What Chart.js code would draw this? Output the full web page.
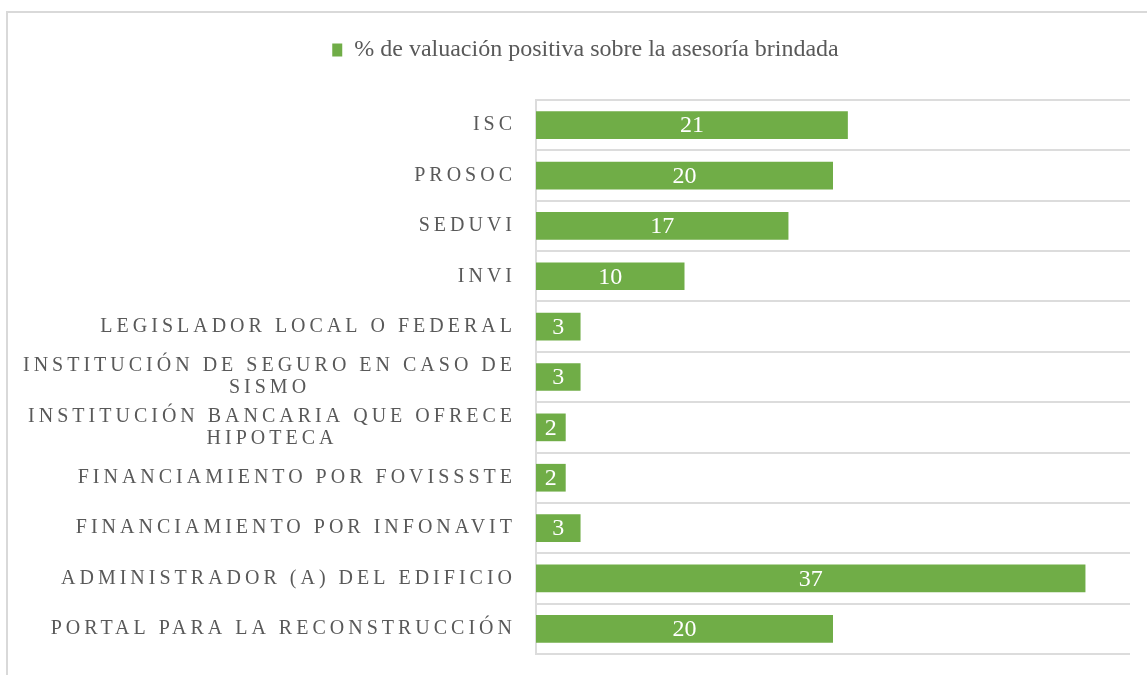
<!DOCTYPE html>
<html>
<head>
<meta charset="utf-8">
<script src="https://cdn.jsdelivr.net/npm/chart.js@4"></script>
<style>
  html, body { margin: 0; padding: 0; background: #fff; }
  #wrap { position: relative; width: 1147px; height: 675px; overflow: hidden; }
  #frame { position: absolute; left: 6px; top: 11px; width: 1200px; height: 720px; border: 2px solid #d9d9d9; box-sizing: border-box; }
  canvas { position: absolute; left: 0; top: 0; }
</style>
</head>
<body>
<div id="wrap">
  <div id="frame"></div>
  <canvas id="c" width="1147" height="675"></canvas>
</div>
<script>
const categories = [
  ['ISC'],
  ['PROSOC'],
  ['SEDUVI'],
  ['INVI'],
  ['LEGISLADOR LOCAL O FEDERAL'],
  ['INSTITUCIÓN DE SEGURO EN CASO DE', 'SISMO'],
  ['INSTITUCIÓN BANCARIA QUE OFRECE', 'HIPOTECA'],
  ['FINANCIAMIENTO POR FOVISSSTE'],
  ['FINANCIAMIENTO POR INFONAVIT'],
  ['ADMINISTRADOR (A) DEL EDIFICIO'],
  ['PORTAL PARA LA RECONSTRUCCIÓN']
];
const values = [21, 20, 17, 10, 3, 3, 2, 2, 3, 37, 20];
const seriesName = '% de valuación positiva sobre la asesoría brindada';
const xMin = 0, xMax = 40;

const SERIF = '"Liberation Serif", "DejaVu Serif", serif';
const TEXT = '#595959';
const GREEN = '#70AD47';
const GRID = '#dcdcdc';

const legendSpace = {
  id: 'legendSpace',
  beforeUpdate(chart) {
    const lg = chart.legend;
    if (lg && !lg._patched) {
      const orig = lg.fit;
      lg.fit = function () { orig.apply(this, arguments); this.height += 28; };
      lg._patched = true;
    }
  }
};

const categoryLabels = {
  id: 'categoryLabels',
  afterDraw(chart) {
    const ctx = chart.ctx;
    const ys = chart.scales.y;
    const right = chart.chartArea.left - 20;
    ctx.save();
    ctx.font = '20px ' + SERIF;
    ctx.fillStyle = TEXT;
    ctx.letterSpacing = '4px';
    ctx.textBaseline = 'middle';
    ctx.textAlign = 'left';
    const lh = 22;
    categories.forEach((lines, i) => {
      const yc = ys.getPixelForTick(i);
      const widths = lines.map(l => ctx.measureText(l).width);
      const bw = Math.max(...widths);
      const left = right - bw;
      const y0 = yc - (lines.length - 1) * lh / 2;
      lines.forEach((l, k) => {
        const x = left + (bw - widths[k]) / 2;
        ctx.fillText(l, x, y0 + k * lh);
      });
    });
    ctx.restore();
  }
};

const barValues = {
  id: 'barValues',
  afterDatasetsDraw(chart) {
    const ctx = chart.ctx;
    ctx.save();
    ctx.font = '24px ' + SERIF;
    ctx.fillStyle = '#ffffff';
    ctx.textAlign = 'center';
    ctx.textBaseline = 'middle';
    chart.getDatasetMeta(0).data.forEach((bar, i) => {
      const cx = (bar.x + bar.base) / 2;
      ctx.fillText(String(values[i]), cx, bar.y + 1);
    });
    ctx.restore();
  }
};

new Chart(document.getElementById('c'), {
  type: 'bar',
  data: {
    labels: categories,
    datasets: [{
      label: seriesName,
      data: values,
      backgroundColor: GREEN,
      borderWidth: 0,
      categoryPercentage: 1,
      barPercentage: 0.55
    }]
  },
  options: {
    indexAxis: 'y',
    responsive: false,
    animation: false,
    layout: { padding: { top: 26, right: 17, bottom: 21, left: 41 } },
    plugins: {
      legend: {
        display: true,
        position: 'top',
        labels: {
          color: TEXT,
          font: { family: SERIF, size: 24 },
          boxWidth: 10,
          boxHeight: 13,
          padding: 12
        }
      },
      tooltip: { enabled: false }
    },
    scales: {
      x: {
        display: false,
        min: xMin,
        max: xMax
      },
      y: {
        offset: true,
        ticks: { display: false },
        grid: { display: true, color: GRID, lineWidth: 2, offset: true, drawTicks: false },
        border: { display: true, color: GRID, width: 2 },
        afterFit(scale) { scale.width = 495; }
      }
    }
  },
  plugins: [legendSpace, categoryLabels, barValues]
});
</script>
</body>
</html>
